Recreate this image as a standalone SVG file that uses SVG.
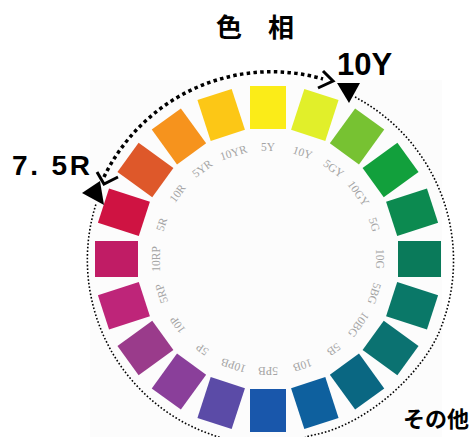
<svg xmlns="http://www.w3.org/2000/svg" width="475" height="437" viewBox="0 0 475 437">
<style>
.sw{stroke:none}
.lb{font-family:"Liberation Serif","DejaVu Serif",serif;font-size:11.5px;fill:#a4a4a4;text-anchor:middle}
.big{font-family:"Liberation Sans",Arial,sans-serif;font-weight:bold;fill:#000}
.cjk{font-family:"Noto Sans CJK JP","Noto Sans CJK SC",sans-serif;font-weight:bold;fill:#000}
.thick{fill:none;stroke:#000;stroke-width:3.5;stroke-dasharray:3.5 3.3}
.thin{fill:none;stroke:#000;stroke-width:1.6;stroke-dasharray:1.6 2}
.hook{fill:none;stroke:#000;stroke-width:3;stroke-linejoin:miter}
</style>
<rect x="0" y="0" width="475" height="437" fill="#fff"/>
<rect x="90" y="80" width="352" height="357" fill="#fcfcfc"/>
<text class="cjk" x="216" y="37" font-size="26">色　相</text>
<g id="wheel" transform="translate(268 259)">
<g id="n5Y" transform="rotate(0)"><rect class="sw" x="-18" y="-173" width="36" height="43" fill="#fbec18"/><text class="lb" y="-108">5Y</text></g>
<g id="n10Y" transform="rotate(18)"><rect class="sw" x="-18" y="-173" width="36" height="43" fill="#e1ef2a"/><text class="lb" y="-108">10Y</text></g>
<g id="n5GY" transform="rotate(36)"><rect class="sw" x="-18" y="-173" width="36" height="43" fill="#77c232"/><text class="lb" y="-108">5GY</text></g>
<g id="n10GY" transform="rotate(54)"><rect class="sw" x="-18" y="-173" width="36" height="43" fill="#12a03c"/><text class="lb" y="-108">10GY</text></g>
<g id="n5G" transform="rotate(72)"><rect class="sw" x="-18" y="-173" width="36" height="43" fill="#0c8a50"/><text class="lb" y="-108">5G</text></g>
<g id="n10G" transform="rotate(90)"><rect class="sw" x="-18" y="-173" width="36" height="43" fill="#0a7a5a"/><text class="lb" y="-108">10G</text></g>
<g id="n5BG" transform="rotate(108)"><rect class="sw" x="-18" y="-173" width="36" height="43" fill="#0a7868"/><text class="lb" y="-108">5BG</text></g>
<g id="n10BG" transform="rotate(126)"><rect class="sw" x="-18" y="-173" width="36" height="43" fill="#0b7271"/><text class="lb" y="-108">10BG</text></g>
<g id="n5B" transform="rotate(144)"><rect class="sw" x="-18" y="-173" width="36" height="43" fill="#0a6782"/><text class="lb" y="-108">5B</text></g>
<g id="n10B" transform="rotate(162)"><rect class="sw" x="-18" y="-173" width="36" height="43" fill="#0e609e"/><text class="lb" y="-108">10B</text></g>
<g id="n5PB" transform="rotate(180)"><rect class="sw" x="-18" y="-173" width="36" height="43" fill="#1957ab"/><text class="lb" y="-108">5PB</text></g>
<g id="n10PB" transform="rotate(198)"><rect class="sw" x="-18" y="-173" width="36" height="43" fill="#5b4ba7"/><text class="lb" y="-108">10PB</text></g>
<g id="n5P" transform="rotate(216)"><rect class="sw" x="-18" y="-173" width="36" height="43" fill="#8a3f9a"/><text class="lb" y="-108">5P</text></g>
<g id="n10P" transform="rotate(234)"><rect class="sw" x="-18" y="-173" width="36" height="43" fill="#9a3b8b"/><text class="lb" y="-108">10P</text></g>
<g id="n5RP" transform="rotate(252)"><rect class="sw" x="-18" y="-173" width="36" height="43" fill="#be2579"/><text class="lb" y="-108">5RP</text></g>
<g id="n10RP" transform="rotate(270)"><rect class="sw" x="-18" y="-173" width="36" height="43" fill="#c01c65"/><text class="lb" y="-108">10RP</text></g>
<g id="n5R" transform="rotate(288)"><rect class="sw" x="-18" y="-173" width="36" height="43" fill="#cf1342"/><text class="lb" y="-108">5R</text></g>
<g id="n10R" transform="rotate(306)"><rect class="sw" x="-18" y="-173" width="36" height="43" fill="#de582a"/><text class="lb" y="-108">10R</text></g>
<g id="n5YR" transform="rotate(324)"><rect class="sw" x="-18" y="-173" width="36" height="43" fill="#f6931d"/><text class="lb" y="-108">5YR</text></g>
<g id="n10YR" transform="rotate(342)"><rect class="sw" x="-18" y="-173" width="36" height="43" fill="#fcc716"/><text class="lb" y="-108">10YR</text></g>
</g>
<g id="connectors">
<path class="thick" d="M104 177 A186 186 0 0 1 323 79"/>
<polyline class="hook" points="323,71 333,81 318,88"/>
<polyline class="hook" points="97,172 104,184 118,177"/>
<path class="thin" d="M355 97 A185 185 0 0 1 440 330 C423 372 370 422 318 434 L305 437"/>
<path class="thin" d="M230 440 A185 185 0 0 1 96 204"/>
<polygon points="337,83 360,83 349,103" fill="#000"/>
<polygon points="82,193 100,181 104,205" fill="#000"/>
</g>
<g id="labels">
<text class="big" x="337" y="75" font-size="31">10Y</text>
<text class="big" x="12" y="175" font-size="28" textLength="78" lengthAdjust="spacing">7. 5R</text>
<text class="cjk" x="403" y="427" font-size="22">その他</text>
</g>
</svg>
